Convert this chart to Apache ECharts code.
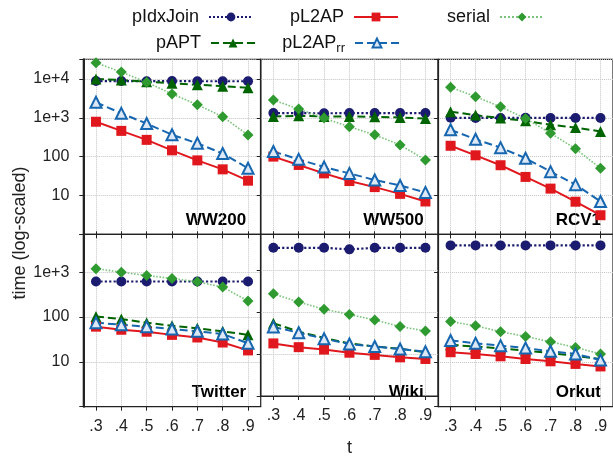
<!DOCTYPE html>
<html>
<head>
<meta charset="utf-8">
<script src="https://cdn.jsdelivr.net/npm/echarts@6/dist/echarts.min.js"></script>
<style>
  html, body { margin: 0; padding: 0; background: #fff; }
  #chart { width: 613px; height: 458px; }
</style>
</head>
<body>
<div id="chart"></div>
<script>
// x categories (threshold t)
const thresholds = ['.3', '.4', '.5', '.6', '.7', '.8', '.9'];
const panelNames = ['WW200', 'WW500', 'RCV1', 'Twitter', 'Wiki', 'Orkut'];

// WW200
const ww200_pIdxJoin = [8800, 8800, 8700, 8800, 8700, 8700, 8700];
const ww200_pAPT     = [10000, 9400, 8500, 7700, 7100, 6500, 5900];
const ww200_pL2AP    = [790, 460, 270, 145, 80, 47, 24];
const ww200_pL2APrr  = [2500, 1300, 710, 365, 220, 120, 50];
const ww200_serial   = [26000, 15000, 8200, 4100, 2170, 1060, 360];
// WW500
const ww500_pIdxJoin = [1320, 1320, 1300, 1320, 1320, 1320, 1320];
const ww500_pAPT     = [1080, 1120, 1080, 1080, 1060, 1020, 960];
const ww500_pL2AP    = [100, 61, 37, 23.5, 16.4, 11, 7];
const ww500_pL2APrr  = [135, 85, 54, 37, 25, 18, 12];
const ww500_serial   = [2860, 1680, 980, 585, 363, 200, 82];
// RCV1
const rcv1_pIdxJoin = [1000, 990, 990, 1000, 990, 990, 990];
const rcv1_pAPT     = [1430, 1170, 980, 835, 660, 560, 445];
const rcv1_pL2AP    = [190, 108, 60, 30, 15, 6.9, 3.1];
const rcv1_pL2APrr  = [490, 280, 170, 91, 41, 19, 7];
const rcv1_serial   = [6100, 3500, 1920, 960, 400, 160, 50];
// Twitter
const twitter_pIdxJoin = [620, 620, 620, 620, 620, 620, 620];
const twitter_pAPT     = [103, 90, 75, 64, 56, 48, 40];
const twitter_pL2AP    = [61, 52, 47, 40, 35, 27, 18];
const twitter_pL2APrr  = [75, 67, 61, 54, 48, 42, 26];
const twitter_serial   = [1200, 1000, 845, 725, 610, 465, 228];
// Wiki
const wiki_pIdxJoin = [3340, 3340, 3340, 3070, 3340, 3340, 3340];
const wiki_pAPT     = [54, 34, 24, 17.8, 15, 13.3, 11];
const wiki_pL2AP    = [17.8, 14.5, 12.7, 10.7, 9.5, 8.3, 7.6];
const wiki_pL2APrr  = [44, 32, 23, 17.2, 15, 13.1, 11.3];
const wiki_serial   = [270, 171, 116, 87, 64, 45, 35];
// Orkut
const orkut_pIdxJoin = [3960, 3960, 3960, 3960, 3960, 3960, 3960];
const orkut_pAPT     = [24, 22, 20, 17.8, 15.6, 13.6, 11.6];
const orkut_pL2AP    = [16.4, 15, 13.3, 11.6, 10.3, 9, 7.9];
const orkut_pL2APrr  = [30, 26, 23, 20.4, 17.2, 15, 11];
const orkut_serial   = [79, 64, 47, 37, 28, 21, 15];

// y ranges per row
const rowYMax = [32000, 7000];

const panelData = [
  {pIdxJoin: ww200_pIdxJoin, pAPT: ww200_pAPT, serial: ww200_serial, pL2AP: ww200_pL2AP, pL2AP_rr: ww200_pL2APrr},
  {pIdxJoin: ww500_pIdxJoin, pAPT: ww500_pAPT, serial: ww500_serial, pL2AP: ww500_pL2AP, pL2AP_rr: ww500_pL2APrr},
  {pIdxJoin: rcv1_pIdxJoin, pAPT: rcv1_pAPT, serial: rcv1_serial, pL2AP: rcv1_pL2AP, pL2AP_rr: rcv1_pL2APrr},
  {pIdxJoin: twitter_pIdxJoin, pAPT: twitter_pAPT, serial: twitter_serial, pL2AP: twitter_pL2AP, pL2AP_rr: twitter_pL2APrr},
  {pIdxJoin: wiki_pIdxJoin, pAPT: wiki_pAPT, serial: wiki_serial, pL2AP: wiki_pL2AP, pL2AP_rr: wiki_pL2APrr},
  {pIdxJoin: orkut_pIdxJoin, pAPT: orkut_pAPT, serial: orkut_serial, pL2AP: orkut_pL2AP, pL2AP_rr: orkut_pL2APrr}
];

const FONT = 'Liberation Sans, Arial, sans-serif';

const styles = {
  pIdxJoin: {color: '#1b1b6f', line: '#1b1b6f', type: 'dotted', width: 2.2, symbol: 'circle', size: 10},
  pAPT:     {color: '#006400', line: '#006400', type: 'dashed', width: 2, symbol: 'triangle', size: 11},
  serial:   {color: '#2f9a2f', line: '#7cc47c', type: 'dotted', width: 1.6, symbol: 'diamond', size: 11},
  pL2AP:    {color: '#e0181e', line: '#e0181e', type: 'solid', width: 2, symbol: 'rect', size: 10},
  pL2AP_rr: {color: '#1766b0', line: '#1766b0', type: 'dashed', width: 2, symbol: 'triangle', size: 11, open: true}
};
const seriesOrder = ['pIdxJoin', 'pAPT', 'serial', 'pL2AP', 'pL2AP_rr'];

const colLeft = [83.3, 260.7, 438.1];
const colWidth = 177.4;
const rowTop = [59.3, 234.3];
const rowHeight = [175, 172.4];

const grids = [], xAxes = [], yAxes = [], series = [], graphics = [];

function yFmt(v) {
  const l = Math.log10(v);
  const e = Math.round(l);
  if (Math.abs(l - e) > 1e-6 || e < 1) return '';
  return e >= 3 ? '1e+' + e : String(Math.pow(10, e));
}

panelNames.forEach(function (pname, i) {
  const row = Math.floor(i / 3), col = i % 3;
  grids.push({
    left: colLeft[col], top: rowTop[row], width: colWidth, height: rowHeight[row],
    show: true, borderColor: '#222', borderWidth: 1.2, backgroundColor: 'transparent'
  });
  xAxes.push({
    type: 'category', gridIndex: i, data: thresholds, boundaryGap: true,
    name: i === 4 ? 't' : '', nameLocation: 'middle', nameGap: 43,
    nameTextStyle: {fontSize: 18, fontFamily: FONT, color: '#222'},
    axisLine: {show: true, lineStyle: {color: '#222', width: 1.2}},
    axisTick: {show: true, alignWithLabel: true, length: 4, inside: false, lineStyle: {color: '#222'}},
    axisLabel: {show: row === 1, fontSize: 16, fontFamily: FONT, color: '#222', margin: 12, interval: 0},
    splitLine: {show: true, alignWithLabel: true, lineStyle: {type: 'dotted', color: '#c4c4c4', width: 1}}
  });
  yAxes.push({
    type: 'log', logBase: 10, gridIndex: i, min: 1, max: rowYMax[row],
    axisLine: {show: true, lineStyle: {color: '#222', width: col === 0 ? 2 : 1.2}},
    axisTick: {show: true, length: 4, inside: false, lineStyle: {color: '#222'}},
    axisLabel: {show: col === 0, formatter: yFmt, fontSize: 16, fontFamily: FONT, color: '#222', margin: 14},
    splitLine: {show: true, lineStyle: {type: 'dotted', color: '#c4c4c4', width: 1}}
  });

  seriesOrder.forEach(function (sname) {
    const st = styles[sname];
    series.push({
      name: sname, type: 'line', xAxisIndex: i, yAxisIndex: i,
      data: panelData[i][sname],
      symbol: st.symbol, symbolSize: st.size, showSymbol: true,
      lineStyle: {color: st.line, width: st.width, type: st.type},
      itemStyle: st.open ? {color: '#dce8f5', borderColor: st.color, borderWidth: 2}
                         : {color: st.color, borderColor: st.color, borderWidth: 0},
      emphasis: {disabled: true},
      animation: false
    });
  });

  // panel label at lower right
  graphics.push({
    type: 'text',
    x: colLeft[col] + colWidth - 14.5,
    y: rowTop[row] + rowHeight[row] - 14,
    style: {
      text: pname, fill: '#000', font: 'bold 17px ' + FONT,
      align: 'right', verticalAlign: 'middle', textAlign: 'right', textVerticalAlign: 'middle'
    }
  });
});

// mirror ticks on the top edge of bottom-row panels
[3, 4, 5].forEach(function (i) {
  xAxes.push({
    type: 'category', gridIndex: i, data: thresholds, boundaryGap: true, position: 'top',
    axisLine: {show: false},
    axisTick: {show: true, alignWithLabel: true, length: 3, inside: false, lineStyle: {color: '#222'}},
    axisLabel: {show: false}, splitLine: {show: false}
  });
});

graphics.push({
  type: 'text', x: 20, y: 233, rotation: Math.PI / 2,
  style: {
    text: 'time (log-scaled)', fill: '#222', font: '18px ' + FONT,
    align: 'center', verticalAlign: 'middle', textAlign: 'center', textVerticalAlign: 'middle'
  }
});

function legendAt(name, right, top) {
  return {
    data: [name], right: right, top: top, orient: 'horizontal', align: 'right',
    itemWidth: 44, itemHeight: 11, padding: 0, itemGap: 0,
    selectedMode: false,
    formatter: function (n) { return n === 'pL2AP_rr' ? 'pL2AP{sub|rr} ' : n + ' '; },
    textStyle: {
      fontSize: 18, fontFamily: FONT, color: '#111',
      rich: {sub: {fontSize: 13, fontFamily: FONT, color: '#111', padding: [11, 0, 0, 0]}}
    }
  };
}

const option = {
  animation: false,
  backgroundColor: '#fff',
  legend: [
    legendAt('pIdxJoin', 359, 8),
    legendAt('pAPT', 357, 34),
    legendAt('pL2AP', 214, 8),
    legendAt('pL2AP_rr', 213, 34),
    legendAt('serial', 68, 8)
  ],
  grid: grids,
  xAxis: xAxes,
  yAxis: yAxes,
  series: series,
  graphic: graphics
};

const chart = echarts.init(document.getElementById('chart'), null, {renderer: 'canvas'});
chart.setOption(option);
</script>
</body>
</html>
